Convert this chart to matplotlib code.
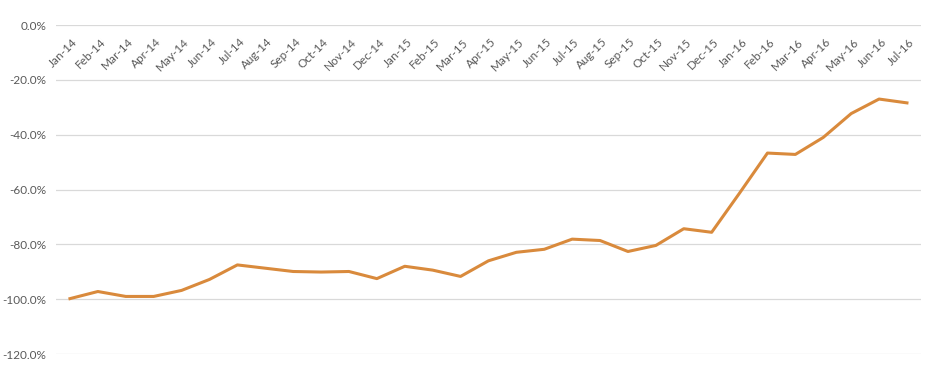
import matplotlib
matplotlib.use('Agg')
import matplotlib.pyplot as plt
import numpy as np

plt.rcParams['font.family'] = ['Lato', 'DejaVu Sans']

# Categories (monthly) and series values (%)
months = ['Jan-14', 'Feb-14', 'Mar-14', 'Apr-14', 'May-14', 'Jun-14', 'Jul-14', 'Aug-14',
          'Sep-14', 'Oct-14', 'Nov-14', 'Dec-14', 'Jan-15', 'Feb-15', 'Mar-15', 'Apr-15',
          'May-15', 'Jun-15', 'Jul-15', 'Aug-15', 'Sep-15', 'Oct-15', 'Nov-15', 'Dec-15',
          'Jan-16', 'Feb-16', 'Mar-16', 'Apr-16', 'May-16', 'Jun-16', 'Jul-16']
values = [-99.8, -97.2, -99.0, -99.0, -96.8, -92.8, -87.5, -88.7, -89.9, -90.1, -89.9,
          -92.5, -88.0, -89.4, -91.7, -86.0, -82.9, -81.8, -78.1, -78.6, -82.6, -80.4,
          -74.3, -75.6, -61.3, -46.7, -47.2, -41.0, -32.3, -27.0, -28.4]
y_ticks = [0, -20, -40, -60, -80, -100, -120]

LINE_COLOR = '#d98a3c'
GRID_COLOR = '#d9d9d9'
TEXT_COLOR = '#595959'

fig = plt.figure(figsize=(9.26, 3.68), dpi=100)
ax = fig.add_axes([0.0605, 0.038, 0.934, 0.894])

x = np.arange(len(months))
ax.plot(x, values, color=LINE_COLOR, linewidth=2.2, solid_joinstyle='round', zorder=3)

ax.set_xlim(-0.5, len(months) - 0.5)
ax.set_ylim(-120, 0)
ax.set_yticks(y_ticks)
ax.set_yticklabels(['%.1f%%' % v for v in y_ticks], color=TEXT_COLOR, fontsize=8.5)
ax.tick_params(axis='y', length=0, pad=7)
ax.set_xticks([])

for v in y_ticks:
    ax.axhline(v, color=GRID_COLOR, linewidth=0.9, zorder=1)

# Category labels sit just under the 0% line, rotated like Excel does
for i, m in enumerate(months):
    ax.text(i + 0.2, -5.5, m, rotation=45, rotation_mode='anchor', ha='right', va='center',
            color=TEXT_COLOR, fontsize=8.5, clip_on=False)

for s in ax.spines.values():
    s.set_visible(False)

fig.savefig('out.png', dpi=100, facecolor='white')
